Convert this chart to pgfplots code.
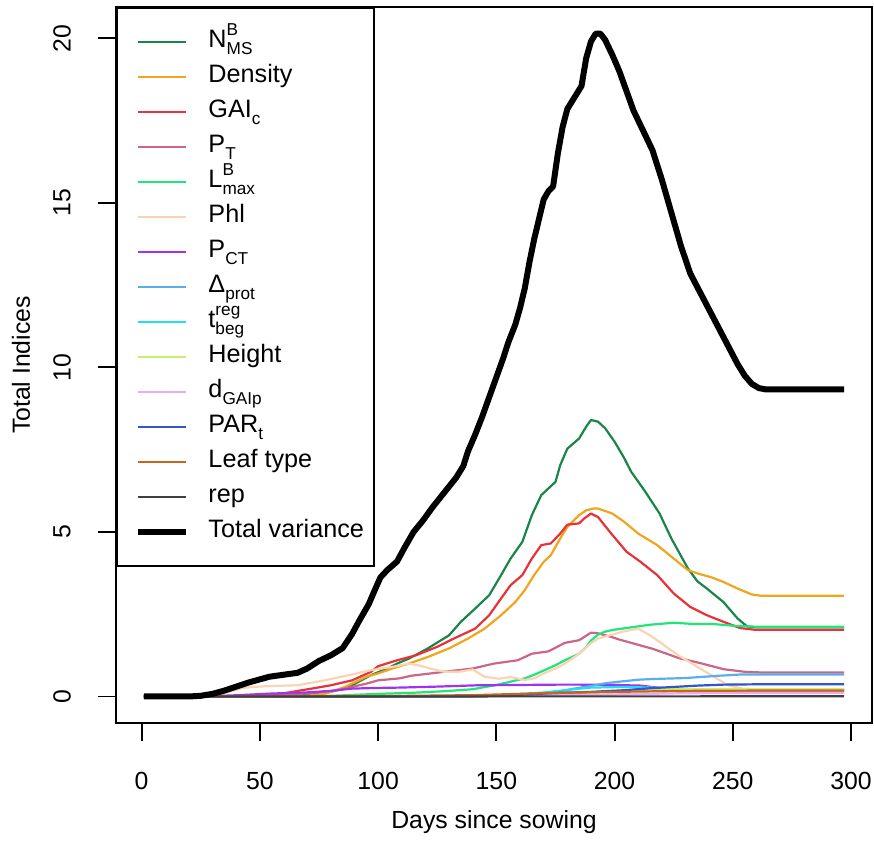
\documentclass[border=0pt]{standalone}
\usepackage{fontspec}
\setmainfont{Liberation Sans}
\usepackage{pgfplots}
\pgfplotsset{compat=1.18}

\definecolor{cNMS}{RGB}{26,133,72}
\definecolor{cDens}{RGB}{240,165,30}
\definecolor{cGAI}{RGB}{232,50,58}
\definecolor{cPT}{RGB}{204,102,136}
\definecolor{cLmax}{RGB}{30,230,120}
\definecolor{cPhl}{RGB}{250,212,178}
\definecolor{cPCT}{RGB}{160,50,240}
\definecolor{cDprot}{RGB}{90,175,235}
\definecolor{cTbeg}{RGB}{30,224,240}
\definecolor{cHeight}{RGB}{200,240,110}
\definecolor{cDGAI}{RGB}{235,170,235}
\definecolor{cPAR}{RGB}{50,85,200}
\definecolor{cLeaf}{RGB}{200,100,30}
\definecolor{cRep}{RGB}{64,64,64}

\newcommand{\sps}[1]{\raisebox{6.2pt}{\fontsize{8.6}{8.6}\selectfont #1}}
\newcommand{\sbs}[1]{\raisebox{-3.5pt}{\fontsize{8.6}{8.6}\selectfont #1}}

\begin{document}
\begin{tikzpicture}
\begin{axis}[
  name=ax,
  scale only axis, width=378pt, height=358pt,
  xmin=-10.84, xmax=308.84, ymin=-0.806, ymax=20.95,
  xtick={0,50,...,300}, ytick={0,5,...,20},
  tick pos=left, tick align=outside,
  major tick length=9pt,
  every tick/.style={black, line width=0.9pt},
  axis line style={line width=0.9pt},
  /pgf/number format/assume math mode=true,
  tick label style={font=\fontsize{12.4}{14}\selectfont},
  xticklabel style={anchor=center, yshift=-20pt},
  yticklabel style={anchor=center, xshift=-18pt, rotate=90},
  label style={font=\fontsize{12.4}{14}\selectfont},
  xlabel={Days since sowing},
  ylabel={Total Indices},
  xlabel style={at={(axis description cs:0.5,-0.1383)}, anchor=center},
  ylabel style={at={(axis description cs:-0.1257,0.5)}, anchor=center},
  every axis plot/.append style={line width=1.1pt, line join=round, no marks},
  legend style={
    at={(0,1)}, anchor=north west,
    draw=black, fill=white, line width=0.9pt,
    font=\fontsize{12.6}{14}\selectfont,
    inner xsep=5pt, inner ysep=8.25pt,
    row sep=0pt,
    nodes={inner sep=0pt, text height=11.5pt, text depth=6pt},
    /tikz/every odd column/.append style={column sep=9.8pt},
  },
  legend cell align=left,
  legend image code/.code={
    \path[draw=none] (0pt,-2.8pt) -- (29.5pt,-2.8pt);
    \draw (5.5pt,0pt) -- (29.5pt,0pt);
  },
]
% N_MS^B
\addplot[cNMS] coordinates {(1,0) (40,0) (60,0.01) (70,0.04) (80,0.14) (89,0.34) (97,0.65) (104,0.85) (108,1.0) (113,1.15) (121,1.46) (130,1.86) (135,2.27) (141,2.67) (147,3.08) (152,3.69) (156,4.19) (161,4.7) (165,5.51) (169,6.12) (172,6.32) (175,6.52) (177,7.03) (180,7.53) (185,7.84) (188,8.2) (190,8.4) (193,8.35) (196,8.15) (200,7.74) (204,7.25) (207,6.83) (213,6.22) (219,5.56) (224,4.8) (231,3.89) (235,3.5) (239,3.28) (246,2.87) (252,2.37) (256,2.13) (260,2.1) (297,2.1)};
\addlegendentry{N\rlap{\sps{B}}\sbs{MS}}
% Density
\addplot[cDens] coordinates {(1,0) (50,0) (70,0.02) (78,0.09) (86,0.29) (95,0.6) (100,0.7) (106,0.85) (113,1.0) (121,1.2) (130,1.46) (138,1.76) (145,2.06) (152,2.47) (158,2.87) (162,3.23) (166,3.69) (170,4.09) (173,4.29) (177,4.8) (180,5.15) (185,5.51) (188,5.66) (191,5.71) (193,5.71) (199,5.56) (204,5.31) (210,4.95) (218,4.6) (225,4.19) (231,3.84) (235,3.74) (241,3.62) (246,3.48) (252,3.28) (258,3.1) (262,3.06) (297,3.06)};
\addlegendentry{Density}
% GAIc
\addplot[cGAI] coordinates {(1,0) (45,0) (55,0.03) (62,0.12) (72,0.24) (80,0.34) (89,0.49) (97,0.75) (100,0.92) (108,1.1) (116,1.25) (125,1.51) (132,1.76) (141,2.06) (147,2.47) (152,2.98) (156,3.38) (161,3.69) (165,4.19) (169,4.6) (173,4.65) (177,4.95) (180,5.22) (185,5.26) (187,5.4) (190,5.56) (193,5.45) (198,5.0) (205,4.4) (211,4.09) (218,3.69) (225,3.13) (232,2.72) (239,2.47) (246,2.27) (253,2.08) (259,2.03) (297,2.03)};
\addlegendentry{GAI\sbs{c}}
% PT
\addplot[cPT] coordinates {(1,0) (40,0) (55,0.02) (66,0.08) (75,0.13) (83,0.19) (95,0.39) (100,0.49) (109,0.55) (114,0.63) (128,0.75) (140,0.85) (149,1.0) (159,1.1) (165,1.3) (172,1.37) (179,1.63) (185,1.71) (190,1.94) (193,1.92) (199,1.8) (202,1.73) (210,1.57) (216,1.45) (222,1.3) (227,1.17) (237,1.0) (246,0.83) (255,0.75) (262,0.73) (297,0.73)};
\addlegendentry{P\sbs{T}}
% Lmax
\addplot[cLmax] coordinates {(1,0) (60,0) (80,0.02) (100,0.08) (114,0.11) (128,0.16) (140,0.22) (150,0.35) (156,0.45) (162,0.55) (166,0.66) (171,0.82) (175,0.95) (179,1.1) (185,1.3) (188,1.5) (190,1.7) (193,1.88) (196,1.97) (199,2.02) (207,2.1) (215,2.18) (225,2.24) (234,2.2) (242,2.2) (252,2.14) (260,2.12) (297,2.12)};
\addlegendentry{L\rlap{\sps{B}}\sbs{max}}
% Phl
\addplot[cPhl] coordinates {(1,0) (25,0) (35,0.1) (42,0.25) (47,0.29) (55,0.32) (66,0.34) (72,0.42) (78,0.5) (89,0.67) (97,0.8) (106,0.9) (113,1.0) (117,0.95) (122,0.85) (128,0.75) (134,0.75) (140,0.82) (145,0.6) (151,0.54) (156,0.59) (162,0.5) (166,0.55) (170,0.7) (175,0.85) (179,1.0) (185,1.3) (190,1.62) (193,1.76) (199,1.88) (204,1.98) (210,2.06) (214,1.9) (218,1.71) (223,1.45) (227,1.25) (235,0.9) (242,0.6) (248,0.34) (254,0.24) (260,0.22) (297,0.22)};
\addlegendentry{Phl}
% PCT
\addplot[cPCT] coordinates {(1,0) (30,0.01) (41,0.04) (55,0.09) (69,0.12) (80,0.17) (89,0.24) (100,0.26) (109,0.27) (125,0.3) (142,0.34) (160,0.35) (176,0.36) (185,0.36) (200,0.35) (211,0.33) (218,0.27) (225,0.22) (237,0.19) (250,0.18) (297,0.18)};
\addlegendentry{P\sbs{CT}}
% Delta prot
\addplot[cDprot] coordinates {(1,0) (100,0) (150,0.02) (160,0.05) (170,0.1) (176,0.14) (183,0.24) (190,0.32) (196,0.4) (202,0.45) (210,0.51) (216,0.53) (230,0.56) (244,0.63) (254,0.67) (297,0.67)};
\addlegendentry{Δ\sbs{prot}}
% tbeg
\addplot[cTbeg] coordinates {(1,0) (100,0) (150,0.03) (170,0.12) (180,0.2) (190,0.27) (204,0.29) (216,0.27) (230,0.22) (250,0.2) (297,0.2)};
\addlegendentry{t\rlap{\sps{reg}}\sbs{beg}}
% Height
\addplot[cHeight] coordinates {(1,0) (140,0.02) (180,0.08) (200,0.15) (220,0.22) (297,0.22)};
\addlegendentry{Height}
% dGAIp
\addplot[cDGAI] coordinates {(1,0) (150,0.01) (190,0.05) (230,0.1) (297,0.11)};
\addlegendentry{d\sbs{GAIp}}
% PARt
\addplot[cPAR] coordinates {(1,0) (140,0.01) (160,0.05) (176,0.11) (190,0.14) (204,0.19) (215,0.25) (225,0.29) (235,0.33) (246,0.36) (260,0.37) (297,0.37)};
\addlegendentry{PAR\sbs{t}}
% Leaf type
\addplot[cLeaf] coordinates {(1,0) (100,0.01) (140,0.04) (170,0.1) (200,0.14) (230,0.17) (260,0.18) (297,0.18)};
\addlegendentry{Leaf type}
% rep
\addplot[cRep] coordinates {(1,0) (297,0.005)};
\addlegendentry{rep}
% Total variance
\addplot[black, line width=3pt] coordinates {(1,0) (20,0) (25,0.02) (30,0.08) (35,0.18) (40,0.3) (45,0.42) (50,0.52) (54,0.6) (60,0.66) (66,0.72) (70,0.85) (75,1.08) (80,1.25) (85,1.47) (89,1.9) (92,2.3) (96,2.8) (99,3.3) (101,3.62) (104,3.85) (108,4.1) (111,4.5) (115,5.0) (119,5.35) (123,5.75) (128,6.2) (133,6.65) (136,7.0) (138,7.45) (141,7.95) (144,8.5) (147,9.1) (150,9.7) (153,10.3) (155,10.75) (158,11.3) (160,11.8) (162,12.4) (164,13.2) (166,13.9) (168,14.5) (170,15.1) (172,15.35) (174,15.5) (176,16.5) (178,17.3) (180,17.85) (183,18.2) (186,18.55) (188,19.4) (190,19.9) (192,20.14) (194,20.14) (196,19.95) (199,19.5) (202,19.0) (205,18.4) (208,17.8) (212,17.2) (216,16.6) (220,15.7) (224,14.7) (228,13.7) (232,12.85) (236,12.3) (240,11.75) (244,11.2) (248,10.65) (252,10.1) (255,9.75) (258,9.5) (261,9.37) (264,9.33) (297,9.33)};
\addlegendentry{Total variance}
\end{axis}
\pgfresetboundingbox
\path ([xshift=-58pt,yshift=-60pt]ax.south west) rectangle ([xshift=1pt,yshift=3.5pt]ax.north east);
\end{tikzpicture}
\end{document}
